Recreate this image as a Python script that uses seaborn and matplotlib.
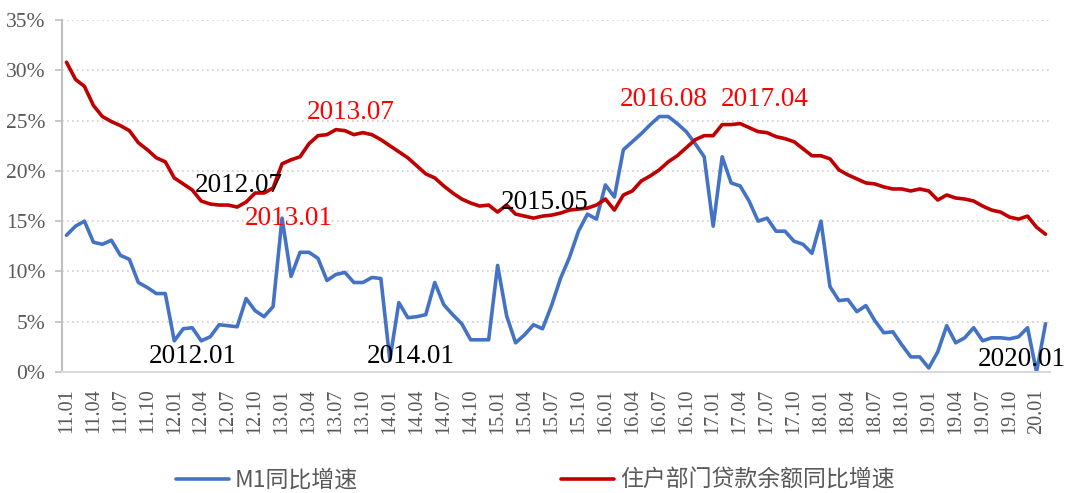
import pandas as pd
import seaborn as sns
import matplotlib.pyplot as plt
from matplotlib.font_manager import FontProperties

# monthly data, 2011.01 - 2020.02 (year-on-year growth, %)
months = pd.period_range("2011-01", "2020-02", freq="M")
month_labels = list(months.strftime("%y.%m"))

m1_growth = [
    13.6, 14.5, 15.0, 12.9, 12.7, 13.1, 11.6, 11.2, 8.9, 8.4, 7.8, 7.8,
    3.1, 4.3, 4.4, 3.1, 3.5, 4.7, 4.6, 4.5, 7.3, 6.1, 5.5, 6.5,
    15.3, 9.5, 11.9, 11.9, 11.3, 9.1, 9.7, 9.9, 8.9, 8.9, 9.4, 9.3,
    1.2, 6.9, 5.4, 5.5, 5.7, 8.9, 6.7, 5.7, 4.8, 3.2, 3.2, 3.2,
    10.6, 5.6, 2.9, 3.7, 4.7, 4.3, 6.6, 9.3, 11.4, 14.0, 15.7, 15.2,
    18.6, 17.4, 22.1, 22.9, 23.7, 24.6, 25.4, 25.4, 24.7, 23.9, 22.7, 21.4,
    14.5, 21.4, 18.8, 18.5, 17.0, 15.0, 15.3, 14.0, 14.0, 13.0, 12.7, 11.8,
    15.0, 8.5, 7.1, 7.2, 6.0, 6.6, 5.1, 3.9, 4.0, 2.7, 1.5, 1.5,
    0.4, 2.0, 4.6, 2.9, 3.4, 4.4, 3.1, 3.4, 3.4, 3.3, 3.5, 4.4,
    0.0, 4.8,
]

household_loan_growth = [
    30.8, 29.1, 28.4, 26.5, 25.4, 24.9, 24.5, 24.0, 22.8, 22.1, 21.3, 20.9,
    19.3, 18.7, 18.1, 17.0, 16.7, 16.6, 16.6, 16.4, 16.9, 17.8, 17.8, 18.3,
    20.7, 21.1, 21.4, 22.7, 23.5, 23.6, 24.1, 24.0, 23.6, 23.8, 23.6, 23.1,
    22.5, 21.9, 21.3, 20.5, 19.7, 19.3, 18.5, 17.8, 17.2, 16.8, 16.5, 16.6,
    15.9, 16.6, 15.7, 15.5, 15.3, 15.5, 15.6, 15.8, 16.1, 16.2, 16.3, 16.6,
    17.2, 16.1, 17.6, 18.0, 19.0, 19.5, 20.1, 20.9, 21.5, 22.3, 23.1, 23.5,
    23.5, 24.6, 24.6, 24.7, 24.3, 23.9, 23.8, 23.4, 23.2, 22.9, 22.2, 21.5,
    21.5, 21.2, 20.1, 19.6, 19.2, 18.8, 18.7, 18.4, 18.2, 18.2, 18.0, 18.2,
    18.0, 17.1, 17.6, 17.3, 17.2, 17.0, 16.5, 16.1, 15.9, 15.4, 15.2, 15.5,
    14.4, 13.7,
]

series_names = ["M1同比增速", "住户部门贷款余额同比增速"]

# point labels: text, month index, y (%), colour
notes = [
    ("2012.01", 14.1, 1.5, "black"),
    ("2012.07", 19.2, 18.5, "black"),
    ("2013.01", 24.7, 15.3, "#ff0000"),
    ("2013.07", 31.6, 25.8, "#ff0000"),
    ("2014.01", 38.3, 1.5, "black"),
    ("2015.05", 53.2, 16.9, "black"),
    ("2016.08", 66.5, 27.1, "#ff0000"),
    ("2017.04", 77.7, 27.1, "#ff0000"),
    ("2020.01", 106.3, 1.2, "black"),
]

df = pd.DataFrame({
    "idx": range(len(months)),
    "m1": m1_growth,
    "loan": household_loan_growth,
})

sns.set_style("white")
plt.rcParams["font.family"] = ["Liberation Serif", "Noto Sans CJK SC"]

fig = plt.figure(figsize=(10.7, 4.93), dpi=100)
ax = fig.add_axes([62 / 1070, 1 - 372 / 493, (1050 - 62) / 1070, (372 - 20) / 493])

sns.lineplot(data=df, x="idx", y="m1", color="#4472c4", lw=2.6, ax=ax, legend=False)
sns.lineplot(data=df, x="idx", y="loan", color="#c00000", lw=2.6, ax=ax, legend=False)

ax.set_xlim(-0.5, len(months) - 0.5)
ax.set_ylim(0, 35)
ax.set_yticks(range(0, 36, 5))
ax.set_yticklabels([f"{v}%" for v in range(0, 36, 5)])
ax.set_xticks(range(0, len(months), 3))
ax.set_xticklabels(month_labels[::3], rotation=90, va="top", ha="center")
ax.set_xlabel("")
ax.set_ylabel("")

ax.yaxis.grid(True, linestyle=(0, (1, 2)), color="#d0d0d0", lw=1.2)
ax.xaxis.grid(False)
for s in ["top", "right"]:
    ax.spines[s].set_visible(False)
ax.spines["left"].set_color("#bfbfbf")
ax.spines["left"].set_linewidth(1.5)
ax.spines["bottom"].set_color("#d9d9d9")
ax.spines["bottom"].set_linewidth(1.5)

ax.tick_params(axis="y", left=True, length=5, width=1.2, color="#bfbfbf",
               pad=7, labelsize=15.5, labelcolor="#595959")
ax.tick_params(axis="x", bottom=False, length=0, pad=12, labelsize=14.5,
               labelcolor="#595959")

for txt, xi, yv, col in notes:
    ax.text(xi, yv, txt, color=col, fontsize=19.5, ha="center", va="center",
            zorder=5)

fig.legend(ax.lines[:2], series_names, loc="center", bbox_to_anchor=(0.500, 0.026),
           ncol=2, frameon=False, handlelength=2.3, handletextpad=0.25,
           columnspacing=8.9, labelcolor="#595959",
           prop=FontProperties(family=["Noto Sans CJK SC"], size=16.5))

fig.savefig("out.png", dpi=100)
